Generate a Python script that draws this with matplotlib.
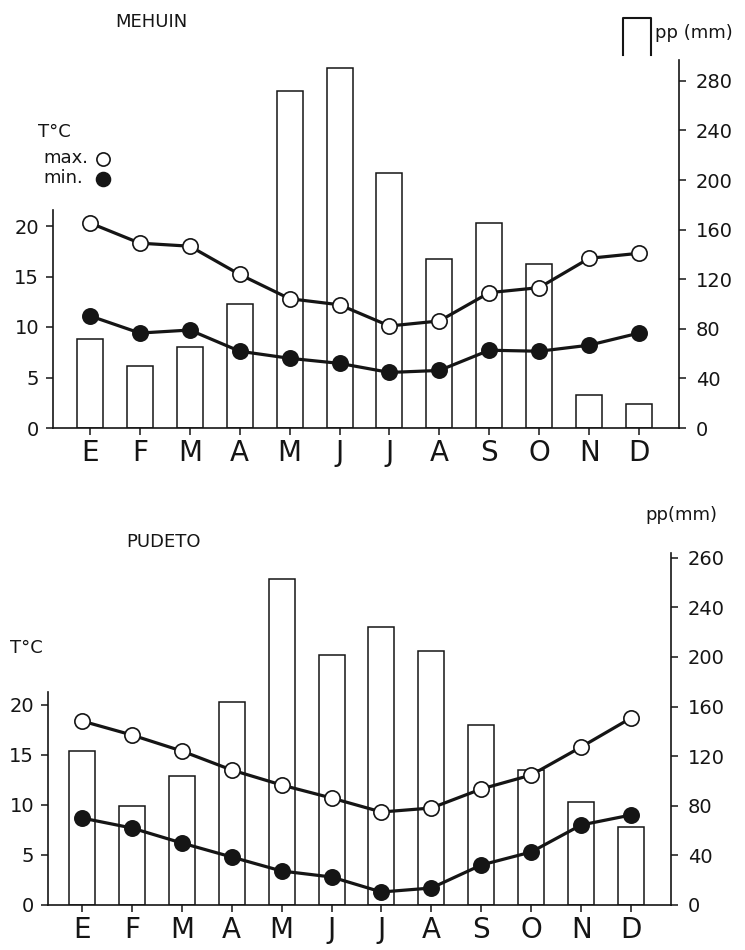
import numpy as np
import matplotlib
matplotlib.use("Agg")
import matplotlib.pyplot as plt
from matplotlib.lines import Line2D

# month initials (Spanish)
months = ["E", "F", "M", "A", "M", "J", "J", "A", "S", "O", "N", "D"]

# MEHUIN
mehuin_pp = [72, 50, 65, 100, 272, 290, 206, 136, 165, 132, 27, 19]
mehuin_tmax = [20.3, 18.3, 18.0, 15.2, 12.8, 12.2, 10.1, 10.6, 13.4, 13.9, 16.8, 17.3]
mehuin_tmin = [11.1, 9.4, 9.7, 7.6, 6.9, 6.4, 5.5, 5.7, 7.7, 7.6, 8.2, 9.4]

# PUDETO
pudeto_pp = [124, 80, 104, 164, 263, 202, 224, 205, 145, 109, 83, 63]
pudeto_tmax = [18.4, 17.0, 15.4, 13.5, 12.0, 10.7, 9.3, 9.7, 11.6, 13.0, 15.8, 18.7]
pudeto_tmin = [8.7, 7.7, 6.2, 4.8, 3.4, 2.8, 1.3, 1.7, 4.0, 5.3, 8.0, 9.0]

t_ticks = [0, 5, 10, 15, 20]
mehuin_pp_ticks = [0, 40, 80, 120, 160, 200, 240, 280]
mehuin_pp_labels = ["0", "40", "80", "120", "160", "200", "240", "280"]
pudeto_pp_ticks = [0, 40, 80, 120, 160, 200, 240, 280]
pudeto_pp_labels = ["0", "40", "80", "120", "160", "200", "240", "260"]

INK = "#151515"
plt.rcParams["font.family"] = "DejaVu Sans"

fig = plt.figure(figsize=(7.45, 9.5), dpi=100)


def climate_panel(rect, pp, tmax, tmin, t_top, t_spine, pp_top, pp_ticks, pp_labels, xlim):
    ax = fig.add_axes(rect)
    ax2 = ax.twinx()
    ax.set_zorder(2)
    ax2.set_zorder(1)
    ax.patch.set_visible(False)

    x = np.arange(len(months))
    ax2.bar(x, pp, width=0.52, facecolor="white", edgecolor=INK, linewidth=1.1)

    ax.plot(x, tmax, color=INK, lw=2.3, marker="o", ms=11,
            mfc="white", mec=INK, mew=1.2)
    ax.plot(x, tmin, color=INK, lw=2.3, marker="o", ms=11,
            mfc=INK, mec=INK, mew=1.2)

    ax.set_xlim(*xlim)
    ax.set_ylim(0, t_top)
    ax2.set_ylim(0, pp_top)

    for a in (ax, ax2):
        a.spines["top"].set_visible(False)
    ax.spines["right"].set_visible(False)
    ax2.spines["left"].set_visible(False)
    ax2.spines["bottom"].set_visible(False)
    ax.spines["left"].set_bounds(0, t_spine)
    ax2.spines["right"].set_bounds(0, pp_top)
    for s in ("left", "bottom"):
        ax.spines[s].set_linewidth(1.2)
        ax.spines[s].set_color(INK)
    ax2.spines["right"].set_linewidth(1.2)
    ax2.spines["right"].set_color(INK)

    ax.set_xticks(x)
    ax.set_xticklabels(months, fontsize=20)
    ax.set_yticks(t_ticks)
    ax.set_yticklabels([str(v) for v in t_ticks], fontsize=14)
    ax2.set_yticks(pp_ticks)
    ax2.set_yticklabels(pp_labels, fontsize=14)

    ax.tick_params(axis="x", direction="out", length=5, width=1.1, pad=3, colors=INK)
    ax.tick_params(axis="y", direction="out", length=5, width=1.1, pad=5, colors=INK)
    ax2.tick_params(axis="y", direction="out", length=5, width=1.1, pad=7, colors=INK)
    return ax, ax2


climate_panel([53 / 745, 1 - 428 / 950, 626 / 745, 368 / 950],
              mehuin_pp, mehuin_tmax, mehuin_tmin,
              t_top=368 / 10.1, t_spine=21.6, pp_top=368 / 1.24,
              pp_ticks=mehuin_pp_ticks, pp_labels=mehuin_pp_labels,
              xlim=(-0.74, 11.8))

climate_panel([48 / 745, 1 - 905 / 950, 623 / 745, 352 / 950],
              pudeto_pp, pudeto_tmax, pudeto_tmin,
              t_top=352 / 10.0, t_spine=21.3, pp_top=352 / 1.24,
              pp_ticks=pudeto_pp_ticks, pp_labels=pudeto_pp_labels,
              xlim=(-0.68, 11.8))

# annotations, top panel
fig.text(115 / 745, 1 - 22 / 950, "MEHUIN", fontsize=13, color=INK, va="center", ha="left")
fig.text(655 / 745, 1 - 33 / 950, "pp (mm)", fontsize=13, color=INK, va="center", ha="left")
fig.add_artist(Line2D([623 / 745, 623 / 745, 651 / 745, 651 / 745],
                      [1 - 55 / 950, 1 - 18 / 950, 1 - 18 / 950, 1 - 55 / 950],
                      color=INK, lw=1.5, transform=fig.transFigure))
fig.text(38 / 745, 1 - 132 / 950, "T°C", fontsize=13, color=INK, va="center", ha="left")
fig.text(43 / 745, 1 - 158 / 950, "max.", fontsize=13, color=INK, va="center", ha="left")
fig.text(43 / 745, 1 - 178 / 950, "min.", fontsize=13, color=INK, va="center", ha="left")
fig.add_artist(Line2D([103 / 745], [1 - 159 / 950], marker="o", ms=9.5, mfc="white",
                      mec=INK, mew=1.2, transform=fig.transFigure))
fig.add_artist(Line2D([103 / 745], [1 - 179 / 950], marker="o", ms=10, mfc=INK,
                      mec=INK, mew=1.2, transform=fig.transFigure))

# annotations, bottom panel
fig.text(126 / 745, 1 - 542 / 950, "PUDETO", fontsize=13, color=INK, va="center", ha="left")
fig.text(645 / 745, 1 - 515 / 950, "pp(mm)", fontsize=13, color=INK, va="center", ha="left")
fig.text(10 / 745, 1 - 648 / 950, "T°C", fontsize=13, color=INK, va="center", ha="left")

fig.savefig("out.png", dpi=100)
